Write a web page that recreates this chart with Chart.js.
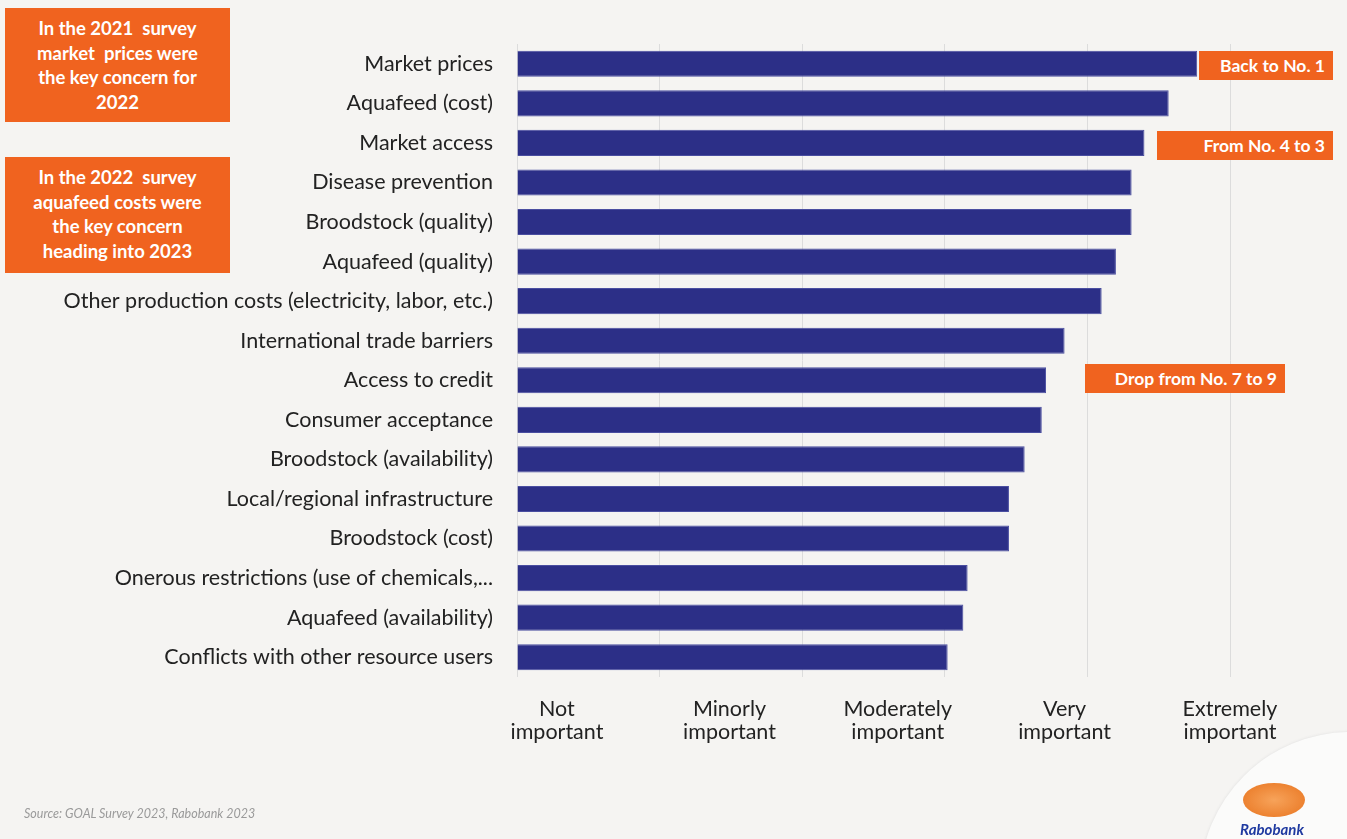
<!DOCTYPE html>
<html>
<head>
<meta charset="utf-8">
<script src="https://cdn.jsdelivr.net/npm/chart.js@4.4.1/dist/chart.umd.min.js"></script>
<style>
    body { margin: 0; background: #f5f4f2; font-family: Lato, sans-serif; }
    #wrap { position: absolute; left: 0; top: 0; width: 1347px; height: 839px; overflow: hidden; }
    #wrap canvas { position: absolute; left: 0; top: 0; }
    .note { position: absolute; background: #f0631f; color: #fff; font-weight: bold; text-align: center; box-sizing: border-box; }
    .big { left: 5px; width: 225px; font-size: 18.5px; line-height: 24.5px; padding-top: 8px; }
    .tag { height: 29px; line-height: 29px; font-size: 17.5px; text-align: right; padding-right: 8px; }
    #source { position: absolute; left: 24px; top: 806px; font-size: 12.5px; font-style: italic; color: #9a9a9a; }
    #ring { position: absolute; left: 1200px; top: 732px; width: 300px; height: 300px; border-radius: 50%; background: #fbfbfa; box-shadow: 0 0 3px #ddd; }
    #disc { position: absolute; left: 1243px; top: 783px; width: 62px; height: 34px; border-radius: 50%; background: radial-gradient(#f7a35a, #e8741f); }
    #rabo { position: absolute; left: 1240px; top: 820px; font-size: 15px; font-weight: bold; font-style: italic; color: #1f3aa0; }
</style>
</head>
<body>
<div id="wrap">
    <div id="ring"></div>
    <canvas id="concerns" width="1347" height="839"></canvas>
    <div class="note big" style="top: 8px; height: 114px;">In the 2021&nbsp; survey<br>market&nbsp; prices were<br>the key concern for<br>2022</div>
    <div class="note big" style="top: 157px; height: 116px;">In the 2022&nbsp; survey<br>aquafeed costs were<br>the key concern<br>heading into 2023</div>
    <div class="note tag" style="left: 1199px; top: 51px; width: 134px;">Back to No. 1</div>
    <div class="note tag" style="left: 1157px; top: 131px; width: 176px;">From No. 4 to 3</div>
    <div class="note tag" style="left: 1085px; top: 364px; width: 200px;">Drop from No. 7 to 9</div>
    <div id="source">Source: GOAL Survey 2023, Rabobank 2023</div>
    <div id="disc"></div>
    <div id="rabo">Rabobank</div>
</div>
<script>
const categories = [
    'Market prices',
    'Aquafeed (cost)',
    'Market access',
    'Disease prevention',
    'Broodstock (quality)',
    'Aquafeed (quality)',
    'Other production costs (electricity, labor, etc.)',
    'International trade barriers',
    'Access to credit',
    'Consumer acceptance',
    'Broodstock (availability)',
    'Local/regional infrastructure',
    'Broodstock (cost)',
    'Onerous restrictions (use of chemicals,...',
    'Aquafeed (availability)',
    'Conflicts with other resource users'
];
const scores = [4.77, 4.57, 4.40, 4.31, 4.31, 4.20, 4.10, 3.84, 3.71, 3.68, 3.56, 3.45, 3.45, 3.16, 3.13, 3.02];
const importanceLabels = [
    ['Not', 'important'],
    ['Minorly', 'important'],
    ['Moderately', 'important'],
    ['Very', 'important'],
    ['Extremely', 'important']
];
const importanceTicks = [0.28, 1.49, 2.67, 3.84, 5];

Chart.defaults.font.family = 'Lato, sans-serif';
Chart.defaults.color = '#222';

const concernsChart = new Chart(document.getElementById('concerns'), {
    type: 'bar',
    data: {
        labels: categories,
        datasets: [{
            data: scores,
            backgroundColor: '#2c2f87',
            borderColor: '#4a4ea0',
            borderWidth: 1,
            barPercentage: 0.66,
            categoryPercentage: 1
        }]
    },
    options: {
        indexAxis: 'y',
        responsive: false,
        animation: false,
        layout: { padding: { top: 44, right: 117, bottom: 0, left: 0 } },
        plugins: { legend: { display: false }, tooltip: { enabled: false } },
        scales: {
            y: {
                grid: { display: false },
                border: { display: false },
                ticks: { font: { size: 21.5 }, padding: 16, color: '#222' },
                afterFit: function(scale){ scale.width = 517; }
            },
            x: {
                min: 0,
                max: 5,
                ticks: { display: false, stepSize: 1 },
                grid: { color: '#dcdcdc', drawTicks: false },
                border: { display: false }
            },
            x2: {
                type: 'linear',
                position: 'bottom',
                min: 0,
                max: 5,
                grid: { display: false },
                border: { display: false },
                afterBuildTicks: function(scale){
                    scale.ticks = importanceTicks.map(v => ({ value: v }));
                },
                ticks: {
                    font: { size: 21.5, lineHeight: 1.07 },
                    padding: 13,
                    maxRotation: 0,
                    autoSkip: false,
                    color: '#222',
                    callback: function(value, index){ return importanceLabels[index]; }
                },
                afterFit: function(scale){ scale.height = 162; }
            }
        }
    }
});
</script>
</body>
</html>
